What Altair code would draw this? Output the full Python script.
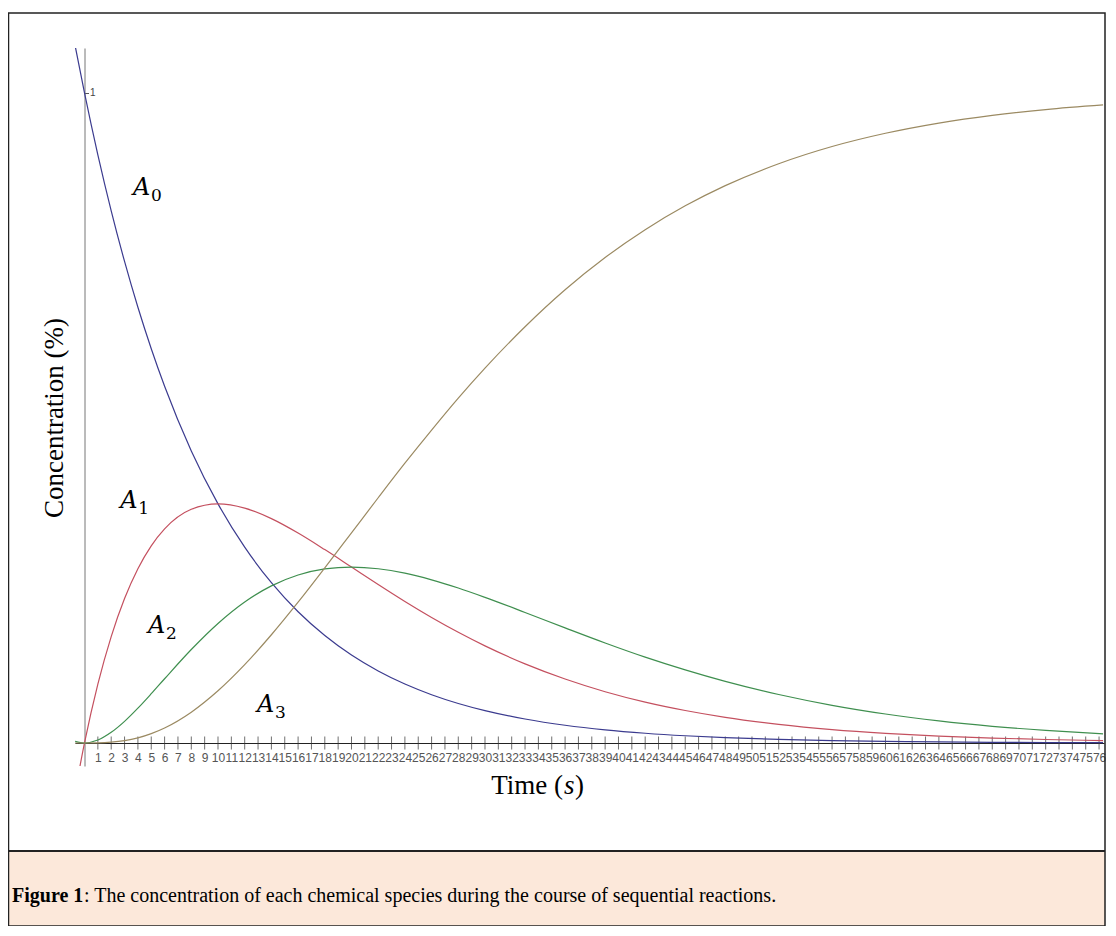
import altair as alt
import pandas as pd

# ---- data ----
time_s = [-0.7, 0, 1, 2, 3, 4, 5, 6, 8, 10, 12, 14, 16, 18, 20, 22, 24, 26, 28, 30,
          33, 36, 39, 42, 45, 48, 52, 56, 60, 64, 68, 72, 76.3]
a0 = [1.0725, 1.0, 0.9048, 0.8187, 0.7408, 0.6703, 0.6065, 0.5488, 0.4493, 0.3679,
      0.3012, 0.2466, 0.2019, 0.1653, 0.1353, 0.1108, 0.0907, 0.0743, 0.0608, 0.0498,
      0.0369, 0.0273, 0.0202, 0.0150, 0.0111, 0.0082, 0.0055, 0.0037, 0.0025, 0.0017,
      0.0011, 0.0007, 0.0005]
a1 = [-0.0751, 0, 0.0905, 0.1637, 0.2222, 0.2681, 0.3033, 0.3293, 0.3595, 0.3679,
      0.3614, 0.3452, 0.3230, 0.2975, 0.2707, 0.2438, 0.2177, 0.1931, 0.1703, 0.1494,
      0.1217, 0.0984, 0.0789, 0.0629, 0.0500, 0.0395, 0.0287, 0.0207, 0.0149, 0.0106,
      0.0076, 0.0054, 0.0037]
a2 = [0.0026, 0, 0.0045, 0.0164, 0.0333, 0.0536, 0.0758, 0.0988, 0.1438, 0.1839,
      0.2169, 0.2417, 0.2584, 0.2678, 0.2707, 0.2681, 0.2613, 0.2510, 0.2384, 0.2240,
      0.2008, 0.1771, 0.1539, 0.1321, 0.1125, 0.0948, 0.0746, 0.0580, 0.0446, 0.0340,
      0.0257, 0.0193, 0.0140]
a3 = [0.0, 0, 0.0002, 0.0012, 0.0036, 0.0079, 0.0144, 0.0231, 0.0474, 0.0803,
      0.1205, 0.1665, 0.2166, 0.2694, 0.3233, 0.3773, 0.4304, 0.4814, 0.5306, 0.5767,
      0.6404, 0.6973, 0.7469, 0.7897, 0.8264, 0.8575, 0.8911, 0.9176, 0.9380, 0.9537,
      0.9656, 0.9745, 0.9816]
series_names = ["A0", "A1", "A2", "A3"]
series_colors = ["#3b3b8f", "#c4505f", "#3f8f4f", "#9b8a62"]
tick_values = list(range(1, 77))
y_tick_values = [1]

# curve labels (anchor of the "A", in data units) and their subscripts
label_sub = ["0", "1", "2", "3"]
label_t = [3.63, 2.67, 4.76, 12.92]
label_v = [0.843, 0.3615, 0.169, 0.0477]

y_title = "Concentration (%)"
x_title_parts = ["Time (", "s", ")"]
caption_bold = "Figure 1"
caption_rest = ": The concentration of each chemical species during the course of sequential reactions."

# ---- build tables ----
rows = []
for name, vals in zip(series_names, [a0, a1, a2, a3]):
    for t, v in zip(time_s, vals):
        rows.append({"t": t, "v": v, "series": name})
lines_df = pd.DataFrame(rows)
ticks_df = pd.DataFrame({"t": tick_values, "v": [0.0] * len(tick_values)})
labels_df = pd.DataFrame({"t": label_t, "v": label_v, "sub": label_sub, "A": ["A"] * 4})

W, H = 1029, 718
xs = alt.Scale(domain=[-0.712, 76.37], nice=False, zero=False)
ys = alt.Scale(domain=[-0.0354, 1.0692], nice=False, zero=False)
xaxis = alt.Axis(values=tick_values, orient="bottom", offset=-23, title=None,
                 ticks=False, tickSize=0, labelPadding=9, labelFontSize=12,
                 labelFont="Liberation Sans", labelColor="#555", labelOverlap=False,
                 labelFlush=False, domainColor="#222", domainWidth=1, grid=False, format="d")
yaxis = alt.Axis(values=y_tick_values, orient="right", offset=-1019.5, title=None,
                 tickSize=4, tickColor="#555", labelPadding=1, labelFontSize=10,
                 labelFont="Liberation Sans", labelColor="#444", domainColor="#777",
                 domainWidth=1, grid=False, format="d")

X = alt.X("t:Q", scale=xs, axis=xaxis)
Y = alt.Y("v:Q", scale=ys, axis=yaxis)

lines = alt.Chart(lines_df).mark_line(interpolate="monotone", strokeWidth=1.2, clip=True).encode(
    x=X, y=Y,
    color=alt.Color("series:N", scale=alt.Scale(domain=series_names, range=series_colors), legend=None),
    detail="series:N",
)
ticks = alt.Chart(ticks_df).mark_tick(orient="vertical", size=13, thickness=1, color="#333").encode(x=X, y=Y)

lab_A = alt.Chart(labels_df).mark_text(
    font="DejaVu Serif", fontStyle="italic", fontSize=24, align="left", baseline="alphabetic", color="#000"
).encode(x=X, y=Y, text="A:N")
lab_sub = alt.Chart(labels_df).mark_text(
    font="DejaVu Serif", fontSize=17, align="left", baseline="alphabetic", color="#000", dx=18, dy=6
).encode(x=X, y=Y, text="sub:N")

one = pd.DataFrame({"k": [0]})

# frame and caption box (pixel positions relative to the plot area)
caption_box = alt.Chart(one).mark_rect(fill="#fce8da", stroke=None).encode(
    x=alt.value(-66.5), x2=alt.value(1030), y=alt.value(803), y2=alt.value(878))
caption_line = alt.Chart(one).mark_rule(color="#222", strokeWidth=2).encode(
    x=alt.value(-66.5), x2=alt.value(1030), y=alt.value(803))
frame = alt.Chart(one).mark_rect(fillOpacity=0, stroke="#222", strokeWidth=1.5).encode(
    x=alt.value(-66.5), x2=alt.value(1030), y=alt.value(-35), y2=alt.value(878))

cap1 = alt.Chart(one).mark_text(font="Liberation Serif", fontWeight="bold", fontSize=20,
                                align="left", baseline="alphabetic", color="#000").encode(
    x=alt.value(-63), y=alt.value(854), text=alt.value(caption_bold))
cap2 = alt.Chart(one).mark_text(font="Liberation Serif", fontSize=20,
                                align="left", baseline="alphabetic", color="#000").encode(
    x=alt.value(9), y=alt.value(854), text=alt.value(caption_rest))

ytitle = alt.Chart(one).mark_text(font="Liberation Serif", fontSize=27, angle=270,
                                  align="center", baseline="middle", color="#000").encode(
    x=alt.value(-20), y=alt.value(370), text=alt.value(y_title))
xt1 = alt.Chart(one).mark_text(font="Liberation Serif", fontSize=27, align="right",
                               baseline="alphabetic", color="#000").encode(
    x=alt.value(488), y=alt.value(746), text=alt.value(x_title_parts[0]))
xt2 = alt.Chart(one).mark_text(font="Liberation Serif", fontStyle="italic", fontSize=27,
                               align="left", baseline="alphabetic", color="#000").encode(
    x=alt.value(489), y=alt.value(746), text=alt.value(x_title_parts[1]))
xt3 = alt.Chart(one).mark_text(font="Liberation Serif", fontSize=27, align="left",
                               baseline="alphabetic", color="#000").encode(
    x=alt.value(500), y=alt.value(746), text=alt.value(x_title_parts[2]))

chart = alt.layer(
    caption_box, caption_line, frame, ticks, lines, lab_A, lab_sub,
    cap1, cap2, ytitle, xt1, xt2, xt3
).properties(
    width=W, height=H,
    padding={"left": 67, "top": 40, "right": 2, "bottom": 160},
    autosize=alt.AutoSizeParams(type="none"),
    background="white",
).configure_view(stroke=None)

chart.save("out.html", embed_options={"renderer": "svg", "actions": False})
